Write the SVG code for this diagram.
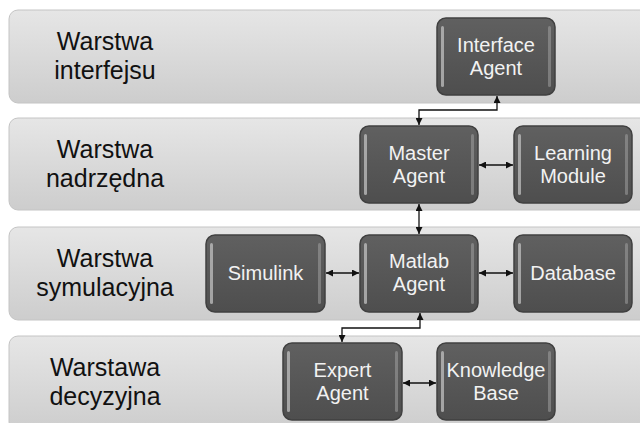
<svg xmlns="http://www.w3.org/2000/svg" width="640" height="423" viewBox="0 0 640 423">
<style>
.band{fill:url(#bandGrad);stroke:#c4c4c4;stroke-width:1}
.lbl{font-family:"Liberation Sans",Arial,sans-serif;font-size:25px;fill:#111;text-anchor:middle}
.box{fill:url(#boxGrad);stroke:#404040;stroke-width:1.5}
.hl{fill:#c8c8c8;opacity:0.7}
.hr{fill:#b0b0b0;opacity:0.45}
.txt{font-family:"Liberation Sans",Arial,sans-serif;font-size:20px;fill:#f2f2f2;text-anchor:middle}
.con{fill:none;stroke:#111;stroke-width:1.3;marker-start:url(#ah);marker-end:url(#ah)}
</style>
<defs>
<linearGradient id="bandGrad" x1="0" y1="0" x2="0" y2="1">
<stop offset="0" stop-color="#e6e6e6"/>
<stop offset="1" stop-color="#cdcdcd"/>
</linearGradient>
<linearGradient id="boxGrad" x1="0" y1="0" x2="0" y2="1">
<stop offset="0" stop-color="#606060"/>
<stop offset="1" stop-color="#4e4e4e"/>
</linearGradient>
<marker id="ah" viewBox="0 0 10 10" refX="10" refY="5" markerWidth="7" markerHeight="7" markerUnits="userSpaceOnUse" orient="auto-start-reverse">
<path d="M0,0 L10,5 L0,10 z" fill="#111"/>
</marker>
</defs>
<rect width="640" height="423" fill="#fff"/>
<g id="band1"><rect class="band" x="9" y="10" width="640" height="93" rx="9"/><text class="lbl" x="105" y="50">Warstwa</text><text class="lbl" x="105" y="79">interfejsu</text></g>
<g id="band2"><rect class="band" x="9" y="118" width="640" height="92" rx="9"/><text class="lbl" x="105" y="158">Warstwa</text><text class="lbl" x="105" y="187">nadrzędna</text></g>
<g id="band3"><rect class="band" x="9" y="227" width="640" height="93" rx="9"/><text class="lbl" x="105" y="267">Warstwa</text><text class="lbl" x="105" y="296">symulacyjna</text></g>
<g id="band4"><rect class="band" x="9" y="336" width="640" height="95" rx="9"/><text class="lbl" x="105" y="376">Warstawa</text><text class="lbl" x="105" y="405">decyzyjna</text></g>
<g id="connectors">
<path class="con" d="M497,96 V110 H419 V125"/>
<path class="con" d="M479,165 H513"/>
<path class="con" d="M419,204 V234"/>
<path class="con" d="M326,273 H359"/>
<path class="con" d="M479,273 H513"/>
<path class="con" d="M420,313 V328 H342 V342"/>
<path class="con" d="M403,383 H436"/>
</g>
<g id="interface-agent"><rect class="box" x="437" y="18" width="118" height="77" rx="9"/><rect class="hl" x="441" y="26" width="3" height="61" rx="1.5"/><rect class="hr" x="548" y="26" width="3" height="61" rx="1.5"/><text class="txt" x="496" y="52">Interface</text><text class="txt" x="496" y="75">Agent</text></g>
<g id="master-agent"><rect class="box" x="360" y="126" width="118" height="77" rx="9"/><rect class="hl" x="364" y="134" width="3" height="61" rx="1.5"/><rect class="hr" x="471" y="134" width="3" height="61" rx="1.5"/><text class="txt" x="419" y="160">Master</text><text class="txt" x="419" y="183">Agent</text></g>
<g id="learning-module"><rect class="box" x="514" y="126" width="118" height="77" rx="9"/><rect class="hl" x="518" y="134" width="3" height="61" rx="1.5"/><rect class="hr" x="625" y="134" width="3" height="61" rx="1.5"/><text class="txt" x="573" y="160">Learning</text><text class="txt" x="573" y="183">Module</text></g>
<g id="simulink"><rect class="box" x="206" y="235" width="119" height="77" rx="9"/><rect class="hl" x="210" y="243" width="3" height="61" rx="1.5"/><rect class="hr" x="318" y="243" width="3" height="61" rx="1.5"/><text class="txt" x="265.5" y="280">Simulink</text></g>
<g id="matlab-agent"><rect class="box" x="360" y="235" width="118" height="77" rx="9"/><rect class="hl" x="364" y="243" width="3" height="61" rx="1.5"/><rect class="hr" x="471" y="243" width="3" height="61" rx="1.5"/><text class="txt" x="419" y="268">Matlab</text><text class="txt" x="419" y="291">Agent</text></g>
<g id="database"><rect class="box" x="514" y="235" width="118" height="77" rx="9"/><rect class="hl" x="518" y="243" width="3" height="61" rx="1.5"/><rect class="hr" x="625" y="243" width="3" height="61" rx="1.5"/><text class="txt" x="573" y="280">Database</text></g>
<g id="expert-agent"><rect class="box" x="283" y="343" width="119" height="77" rx="9"/><rect class="hl" x="287" y="351" width="3" height="61" rx="1.5"/><rect class="hr" x="395" y="351" width="3" height="61" rx="1.5"/><text class="txt" x="342.5" y="377">Expert</text><text class="txt" x="342.5" y="400">Agent</text></g>
<g id="knowledge-base"><rect class="box" x="437" y="343" width="118" height="77" rx="9"/><rect class="hl" x="441" y="351" width="3" height="61" rx="1.5"/><rect class="hr" x="548" y="351" width="3" height="61" rx="1.5"/><text class="txt" x="496" y="377">Knowledge</text><text class="txt" x="496" y="400">Base</text></g>
</svg>
